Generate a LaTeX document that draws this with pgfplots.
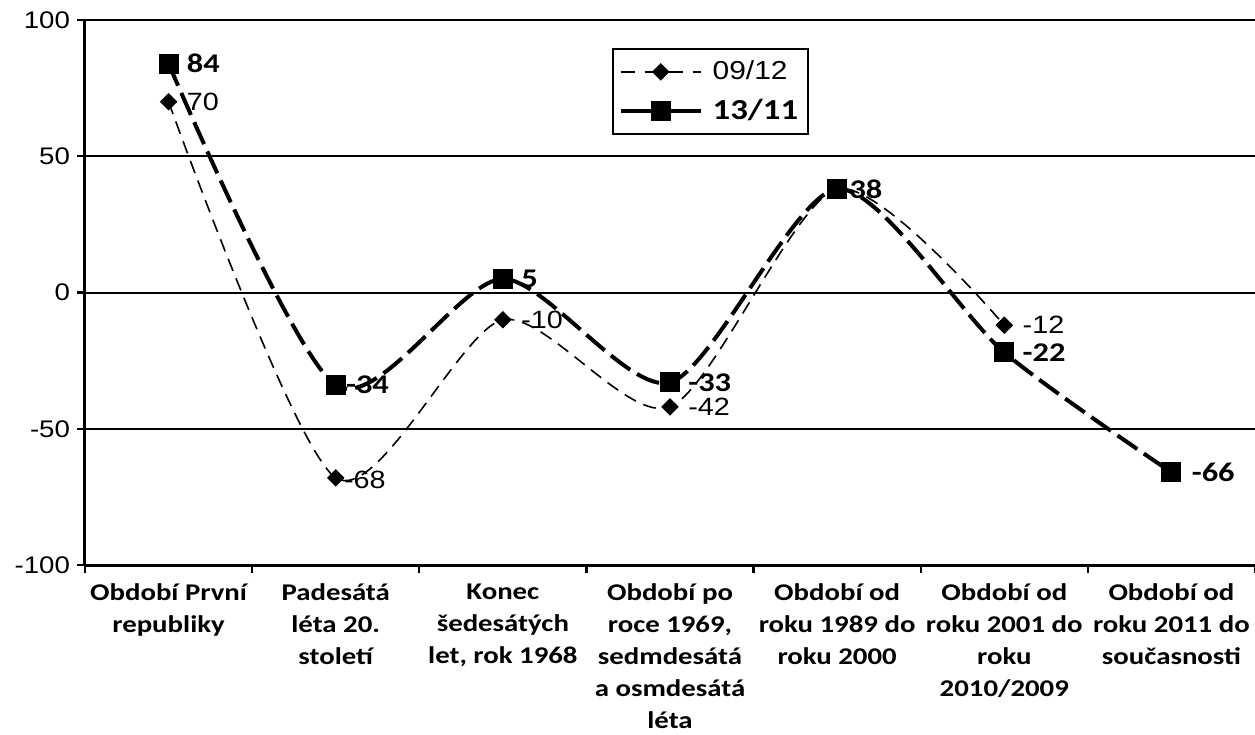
\documentclass[border=0pt]{standalone}
\usepackage{fontspec}
\setmainfont{Liberation Sans}[FakeStretch=1.15]
\newfontfamily\calibri{Carlito}[FakeStretch=1.2]
\usepackage{pgfplots}
\pgfplotsset{compat=1.18}
\pgfplotsset{
  legA/.style={legend image code/.code={
    \draw[##1, dash pattern=on 7pt off 5pt, mark repeat=2, mark phase=2]
      plot coordinates {(0pt,0pt) (20pt,0pt) (40pt,0pt)};}},
  legB/.style={legend image code/.code={
    \draw[##1, dash pattern=on 19pt off 3pt, mark repeat=2, mark phase=2]
      plot coordinates {(0pt,0pt) (20pt,0pt) (40pt,0pt)};}},
}

\begin{document}
\begin{tikzpicture}
\begin{axis}[
  scale only axis,
  width=585pt, height=272.5pt,
  xmin=-0.5, xmax=6.5, ymin=-100, ymax=100,
  axis lines*=left,
  axis line style={-, line width=1.5pt},
  tick align=outside,
  major tick length=4pt,
  tick style={black, line width=1.2pt},
  xtick={-0.5,0.5,...,6.5},
  x tick label as interval,
  xticklabels={
    {Období První\\republiky},
    {Padesátá\\léta 20.\\století},
    {Konec\\šedesátých\\let, rok 1968},
    {Období po\\roce 1969,\\sedmdesátá\\a osmdesátá\\léta},
    {Období od\\roku 1989 do\\roku 2000},
    {Období od\\roku 2001 do\\roku\\2010/2009},
    {Období od\\roku 2011 do\\současnosti}},
  xticklabel style={align=center, font=\calibri\bfseries\fontsize{12}{16}\selectfont, yshift=-2pt},
  ytick={-100,-50,0,50,100},
  yticklabels={-100,-50,0,50,100},
  yticklabel style={font=\fontsize{12}{14}\selectfont},
  ymajorgrids,
  grid style={black, line width=1pt},
  clip=false,
  legend style={at={(0.45,0.949)}, anchor=north west, draw=black,
    line width=1.2pt, inner xsep=3pt, inner ysep=4pt,
    row sep=4pt, column sep=3pt, font=\fontsize{13}{15}\selectfont,
    cells={anchor=west}},
]
% 09/12
\addplot[black, line width=0.8pt, dash pattern=on 6.5pt off 4pt, smooth, tension=0.45,
  mark=square*, mark size=2.7pt, mark options={solid, rotate=45}, legA]
  coordinates {(0,70) (1,-68) (2,-10) (3,-42) (4,38) (5,-12)};
\addlegendentry{09/12}
% 13/11
\addplot[black, line width=2pt, dash pattern=on 12pt off 4pt, smooth, tension=0.45,
  mark=square*, mark size=4pt, mark options={solid}, legB]
  coordinates {(0,84) (1,-34) (2,5) (3,-33) (4,38) (5,-22) (6,-66)};
\addlegendentry{{\calibri\bfseries\fontsize{14.5}{15}\selectfont 13/11}}

% popisky hodnot
\begin{scope}[every node/.style={anchor=west, inner sep=0pt, font=\fontsize{12.5}{14}\selectfont}]
\node[xshift=9pt] at (axis cs:0,70) {70};
\node[xshift=4pt, yshift=-1pt] at (axis cs:1,-68) {-68};
\node[xshift=9pt] at (axis cs:2,-10) {-10};
\node[xshift=9pt] at (axis cs:3,-42) {-42};
\node[xshift=9pt] at (axis cs:5,-12) {-12};
\end{scope}
\begin{scope}[every node/.style={anchor=west, inner sep=0pt, font=\calibri\bfseries\fontsize{13.5}{15}\selectfont}]
\node[xshift=9pt] at (axis cs:0,84) {84};
\node[xshift=5pt] at (axis cs:1,-34) {-34};
\node[xshift=9pt] at (axis cs:2,5) {5};
\node[xshift=9pt] at (axis cs:3,-33) {-33};
\node[xshift=6pt] at (axis cs:4,38) {38};
\node[xshift=9pt] at (axis cs:5,-22) {-22};
\node[xshift=10pt] at (axis cs:6,-66) {-66};
\end{scope}
\end{axis}
\pgfresetboundingbox
\path[use as bounding box] ([shift={(-42.5pt,-84.5pt)}]current axis.south west)
  rectangle ([shift={(0pt,10pt)}]current axis.north east);
\end{tikzpicture}
\end{document}
